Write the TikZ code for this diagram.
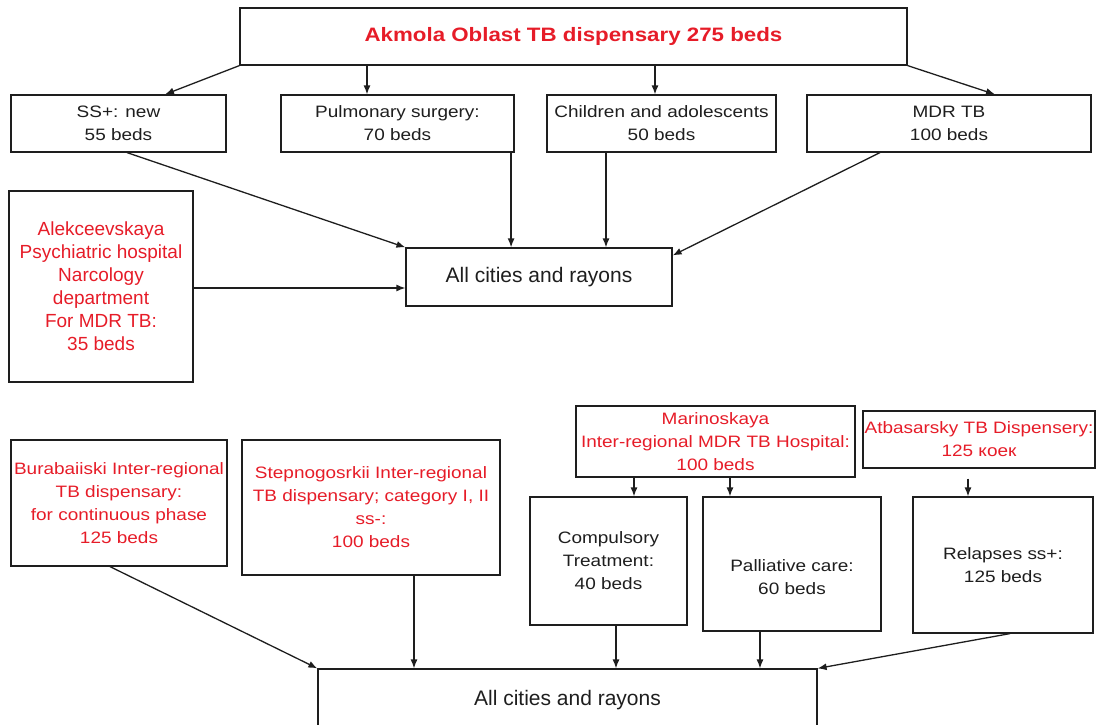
\documentclass[tikz,border=0pt]{standalone}
\usepackage{fontspec}
\setmainfont{Liberation Sans}[FakeStretch=1.15]
\newfontfamily\plainsans{Liberation Sans}
\usetikzlibrary{arrows.meta}
\definecolor{redtxt}{RGB}{230,28,40}
\definecolor{darktxt}{RGB}{30,30,30}
\definecolor{edge}{RGB}{30,30,30}
\tikzset{
  box/.style={draw=edge, line width=1.2pt, inner sep=0pt, align=center, text=darktxt,
    font=\fontsize{16.5}{23}\selectfont},
  redbox/.style={box, text=redtxt},
  txt/.style={inner sep=0pt, align=center, text=darktxt, font=\fontsize{16.5}{23}\selectfont},
  arr/.style={draw=edge, line width=1.3pt, -{Latex[length=9pt,width=7pt]}},
  bigtxt/.style={font=\plainsans\fontsize{21}{25}\selectfont}
}
\begin{document}
\begin{tikzpicture}[x=1pt,y=-1pt]
\useasboundingbox (0,0) rectangle (1097,725);
% top level
\node[box, minimum width=667pt, minimum height=57pt, text=redtxt,
  font=\fontsize{19.4}{23}\selectfont\bfseries] (top) at (573.5,36.5) {Akmola Oblast TB dispensary 275 beds};
\node[box, minimum width=215pt, minimum height=57pt] (ss) at (118.5,123.5) {SS+: new\\55 beds};
\node[box, minimum width=233pt, minimum height=57pt] (pulm) at (397.5,123.5) {Pulmonary surgery:\\70 beds};
\node[box, minimum width=229pt, minimum height=57pt] (child) at (661.5,123.5) {Children and adolescents\\50 beds};
\node[box, minimum width=284pt, minimum height=57pt] (mdr) at (949,123.5) {MDR TB\\100 beds};
\node[redbox, minimum width=184pt, minimum height=191pt, font=\plainsans\fontsize{19}{23}\selectfont] (alek) at (101,286.5)
  {Alekceevskaya\\Psychiatric hospital\\Narcology\\department\\For MDR TB:\\35 beds};
\node[box, minimum width=266pt, minimum height=58pt, bigtxt] (mid) at (539,277) {All cities and rayons};

\draw[arr] (top.south west) -- ([xshift=46.5pt]ss.north);
\draw[arr] ([xshift=-30.5pt]pulm.north |- top.south) -- ([xshift=-30.5pt]pulm.north);
\draw[arr] ([xshift=-6.5pt]child.north |- top.south) -- ([xshift=-6.5pt]child.north);
\draw[arr] (top.south east) -- ([xshift=46pt]mdr.north);

\draw[arr] ([xshift=8.5pt]ss.south) -- (mid.north west);
\draw[arr] ([xshift=-3.5pt]pulm.south east) -- ([xshift=-3.5pt]pulm.south east |- mid.north);
\draw[arr] ([xshift=-55.5pt]child.south) -- ([xshift=-55.5pt]child.south |- mid.north);
\draw[arr] ([xshift=-69pt]mdr.south) -- ([yshift=-8pt]mid.north east);
\draw[arr] ([yshift=-1.5pt]alek.east) -- ([yshift=-1.5pt]alek.east -| mid.west);

% lower level
\node[redbox, minimum width=216pt, minimum height=126pt] (bura) at (119,503)
  {Burabaiiski Inter-regional\\TB dispensary:\\for continuous phase\\125 beds};
\node[redbox, minimum width=258pt, minimum height=135pt] (step) at (371,507.5)
  {Stepnogosrkii Inter-regional\\TB dispensary; category I, II\\ss-:\\100 beds};
\node[redbox, minimum width=279pt, minimum height=71pt] (mari) at (715.5,441.5)
  {Marinoskaya\\Inter-regional MDR TB Hospital:\\100 beds};
\node[redbox, minimum width=232pt, minimum height=57pt] (atba) at (979,439.5)
  {Atbasarsky TB Dispensery:\\125 коек};
\node[box, minimum width=157pt, minimum height=128pt] (comp) at (608.5,561)
  {Compulsory\\Treatment:\\40 beds};
\node[box, minimum width=178pt, minimum height=134pt] (pall) at (792,564) {};
\node[txt] (pallt) at (792,577) {Palliative care:\\60 beds};
\node[box, minimum width=180pt, minimum height=136pt] (rel) at (1003,565)
  {Relapses ss+:\\125 beds};
\node[box, minimum width=499pt, minimum height=62pt, bigtxt] (bot) at (567.5,700) {All cities and rayons};

\draw[arr] ([xshift=25.5pt]comp.north |- mari.south) -- ([xshift=25.5pt]comp.north);
\draw[arr] ([xshift=-62pt]pall.north |- mari.south) -- ([xshift=-62pt]pall.north);
\draw[arr] ([xshift=-35pt]rel.north |- atba.south) ++(0,10) -- ([xshift=-35pt]rel.north);

\draw[arr] ([xshift=-9pt]bura.south) -- (bot.north west);
\draw[arr] ([xshift=43pt]step.south) -- ([xshift=43pt]step.south |- bot.north);
\draw[arr] ([xshift=7.5pt]comp.south) -- ([xshift=7.5pt]comp.south |- bot.north);
\draw[arr] ([xshift=-32pt]pall.south) -- ([xshift=-32pt]pall.south |- bot.north);
\draw[arr] ([xshift=7pt]rel.south) -- (bot.north east);
\end{tikzpicture}
\end{document}
